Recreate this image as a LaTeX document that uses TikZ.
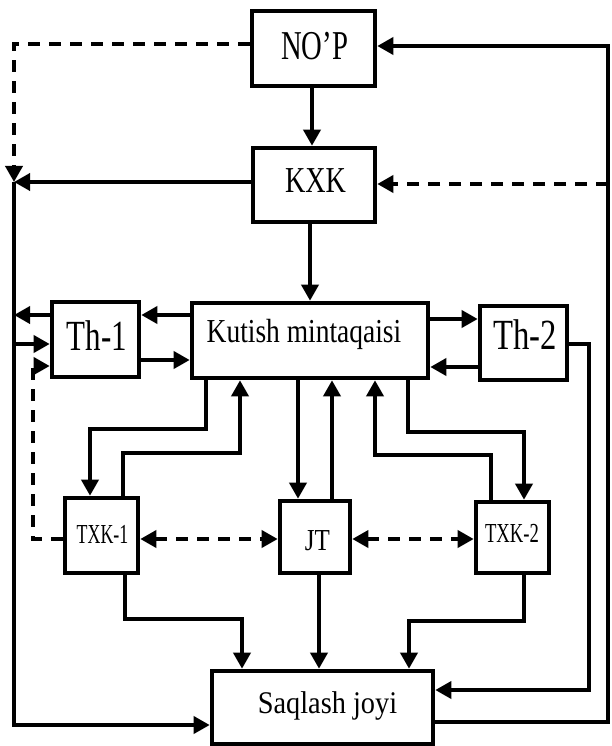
\documentclass[tikz,border=0pt]{standalone}
\usepackage{fontspec}
\setmainfont{Liberation Serif}
\usepackage{graphicx}
\usetikzlibrary{arrows.meta}
\newcommand{\tx}[3]{\scalebox{#2}[1]{\fontsize{#1}{#1}\selectfont #3}}
\begin{document}
\begin{tikzpicture}[x=1pt,y=-1pt,
  box/.style={draw, line width=4.6pt, inner sep=0pt, fill=white},
  lbl/.style={anchor=base, inner sep=0pt},
  con/.style={line width=3.6pt},
  arr/.style={con, -{Triangle[length=16pt,width=17pt]}},
  darr/.style={con, {Triangle[length=16pt,width=17pt]}-{Triangle[length=16pt,width=17pt]}},
  dsh/.style={dash pattern=on 12pt off 9pt}]
\useasboundingbox (0,0) rectangle (611,746);
% boxes
\node[box, minimum width=123pt, minimum height=75pt] (nop) at (313.5,48.5) {};
\node[box, minimum width=122pt, minimum height=74pt] (kxk) at (314,185) {};
\node[box, minimum width=87pt, minimum height=75pt] (th1) at (95.5,339.5) {};
\node[box, minimum width=236pt, minimum height=75pt] (kut) at (310,340.5) {};
\node[box, minimum width=87pt, minimum height=74pt] (th2) at (523.5,343) {};
\node[box, minimum width=73pt, minimum height=75pt] (txk1) at (101.5,535.5) {};
\node[box, minimum width=70pt, minimum height=72pt] (jt) at (315,537) {};
\node[box, minimum width=73pt, minimum height=71pt] (txk2) at (512.5,537.5) {};
\node[box, minimum width=221pt, minimum height=73pt] (saq) at (322.5,707.5) {};
% labels
\node[lbl] (tnop) at (314.5,60) {\tx{41}{0.70}{NO’P}};
\node[lbl] (tkxk) at (315.5,192) {\tx{36.5}{0.77}{KXK}};
\node[lbl] (tth1) at (97,350) {\tx{43}{0.72}{Th-1}};
\node[lbl] (tth2) at (525,349) {\tx{43}{0.76}{Th-2}};
\node[lbl] (tkut) at (304,342) {\tx{33.5}{0.82}{Kutish mintaqaisi}};
\node[lbl] (ttxk1) at (102.5,543) {\tx{27.5}{0.65}{TXK-1}};
\node[lbl] (tjt) at (317.5,550) {\tx{30.5}{0.82}{JT}};
\node[lbl] (ttxk2) at (512,542) {\tx{27.5}{0.68}{TXK-2}};
\node[lbl] (tsaq) at (327.5,713) {\tx{31.5}{0.9}{Saqlash joyi}};
% helper coordinates
\coordinate (xL) at (14,0);
\coordinate (xD) at (33,0);
\coordinate (xT) at (589,0);
\coordinate (xR) at (608,0);
\coordinate (lj) at (14,182);
\coordinate (rNa) at (0,44);
\coordinate (rNb) at (0,46);
\coordinate (rKd) at (0,184);
\coordinate (r1) at (0,315);
\coordinate (r5) at (0,319);
\coordinate (r2) at (0,344);
\coordinate (r3) at (0,360);
\coordinate (r4) at (0,366);
\coordinate (r6) at (0,367);
\coordinate (ra) at (0,429);
\coordinate (rb) at (0,432);
\coordinate (rc) at (0,453);
\coordinate (rc2) at (0,455);
\coordinate (rd) at (0,539);
\coordinate (rl) at (0,619);
\coordinate (rl2) at (0,621);
\coordinate (rS) at (0,690);
\coordinate (rO) at (0,722);
\coordinate (rSL) at (0,725);
\coordinate (c90) at (90,0);
\coordinate (c123) at (123,0);
\coordinate (c125) at (125,0);
\coordinate (c206) at (206,0);
\coordinate (c240) at (240,0);
\coordinate (c242) at (242,0);
\coordinate (c298) at (298,0);
\coordinate (c310) at (310,0);
\coordinate (c312) at (312,0);
\coordinate (c319) at (319,0);
\coordinate (c332) at (332,0);
\coordinate (c375) at (375,0);
\coordinate (c408) at (408,0);
\coordinate (c409) at (409,0);
\coordinate (c491) at (491,0);
\coordinate (c524) at (524,0);
% top part
\draw[arr] (c312 |- nop.south) -- (c312 |- kxk.north);
\draw[arr] (c310 |- kxk.south) -- (c310 |- kut.north);
\draw[arr, dsh] (nop.west |- rNa) -| (lj);
\draw[arr] (kxk.west |- lj) -- (lj);
\draw[arr] (lj) |- (saq.west |- rSL);
\draw[arr] (saq.east |- rO) -| (xR |- rNb) -- (nop.east |- rNb);
\draw[arr, dsh] (xR |- rKd) -- (kxk.east |- rKd);
% Th-1
\draw[arr] (kut.west |- r1) -- (th1.east |- r1);
\draw[arr] (th1.west |- r1) -- (xL |- r1);
\draw[arr] (xL |- r2) -- (th1.west |- r2);
\draw[arr] (th1.east |- r3) -- (kut.west |- r3);
\draw[arr, dsh] (txk1.west |- rd) -| (xD |- r4) -- (th1.west |- r4);
% Th-2
\draw[arr] (kut.east |- r5) -- (th2.west |- r5);
\draw[arr] (th2.west |- r6) -- (kut.east |- r6);
\draw[arr] (th2.east |- r2) -| (xT |- rS) -- (saq.east |- rS);
% Kutish - lower boxes
\draw[arr] (c206 |- kut.south) |- (c90 |- ra) -- (c90 |- txk1.north);
\draw[arr] (c123 |- txk1.north) |- (c240 |- rc) -- (c240 |- kut.south);
\draw[arr] (c298 |- kut.south) -- (c298 |- jt.north);
\draw[arr] (c332 |- jt.north) -- (c332 |- kut.south);
\draw[arr] (c491 |- txk2.north) |- (c375 |- rc2) -- (c375 |- kut.south);
\draw[arr] (c408 |- kut.south) |- (c524 |- rb) -- (c524 |- txk2.north);
% dashed between lower boxes
\draw[darr, dsh] (txk1.east |- rd) -- (jt.west |- rd);
\draw[darr, dsh] (jt.east |- rd) -- (txk2.west |- rd);
% to storage
\draw[arr] (c125 |- txk1.south) |- (c242 |- rl) -- (c242 |- saq.north);
\draw[arr] (c319 |- jt.south) -- (c319 |- saq.north);
\draw[arr] (c524 |- txk2.south) |- (c409 |- rl2) -- (c409 |- saq.north);
\end{tikzpicture}
\end{document}
